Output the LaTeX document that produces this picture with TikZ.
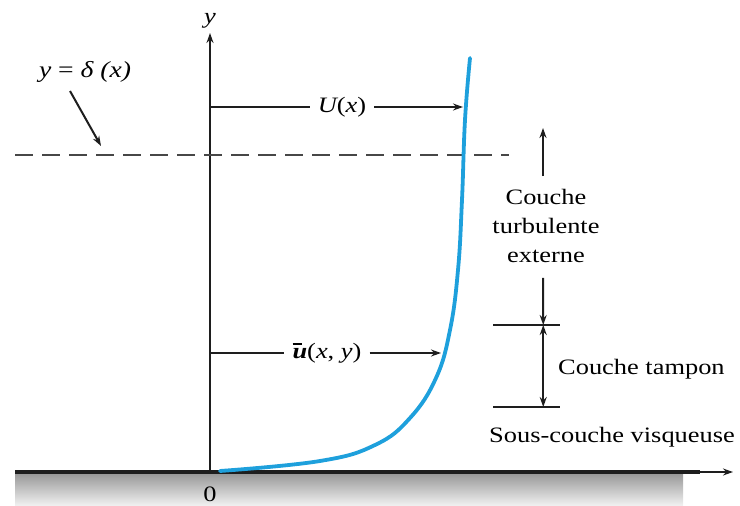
\documentclass[tikz,border=0pt]{standalone}
\usepackage{fontspec}
\setmainfont[FakeStretch=1.2]{Liberation Serif}
\usepackage{tikz}
\usetikzlibrary{arrows.meta,positioning,calc}

\definecolor{profil}{RGB}{30,160,220}
\definecolor{trait}{RGB}{30,30,30}

\newcommand{\ubarre}{\rlap{\rule[0.62em]{0.45em}{1.6pt}}\textbf{\textit{u}}}

\begin{document}
\begin{tikzpicture}[x=1pt,y=-1pt,>={Stealth[length=10pt,width=7pt]},
  lbl/.style={inner sep=1pt,font=\fontsize{22}{29}\selectfont},
  mathlbl/.style={inner xsep=8pt,inner ysep=2pt,font=\fontsize{22}{24}\selectfont\itshape},
  axe/.style={draw=trait,line width=2.2pt},
  fleche/.style={->,draw=trait,line width=2pt},
  repere/.style={draw=trait,line width=2pt}]
  \useasboundingbox (0,0) rectangle (740,506);
  % paroi
  \shade[top color=black!42,bottom color=black!5] (15,472) rectangle (683,506);
  \coordinate (o) at (210,472);
  \coordinate (xend) at (733,472);
  \coordinate (yend) at (210,33);
  \draw[axe,line width=3.2pt] (15,472) -- (700,472);
  \draw[->,axe] (o) -- (xend);
  \draw[->,axe] (o) -- (yend);
  \node[mathlbl] (ylab) at (210,21) {y};
  \node[lbl] (zero) at (210,494) {0};
  % epaisseur de couche limite
  \coordinate (dg) at (15,155);
  \coordinate (dd) at (509,155);
  \draw[draw=black!72,line width=2.6pt,dash pattern=on 18pt off 9pt] (dg) -- (dd);
  \node[mathlbl,font=\fontsize{23}{24}\selectfont\itshape] (dlab) at (85,72) {y \upshape=\itshape\ δ (x)};
  \coordinate (dpt) at (101,146);
  \draw[fleche] (70,91) -- (dpt);
  % profil de vitesse
  \draw[profil,line width=3.8pt,line cap=round] plot[smooth,tension=0.7] coordinates
    {(220,471) (320,461) (375,445) (410,418) (436,378) (450,330) (458,270)
     (462,200) (465,120) (470,58)};
  \coordinate (ua) at (210,107);
  \coordinate (ub) at (463,107);
  \node[mathlbl] (ulab) at (342,107) {U\upshape(\itshape x\upshape)};
  \draw[repere] (ua) -- (ulab);
  \draw[fleche] (ulab) -- (ub);
  \coordinate (va) at (210,353);
  \coordinate (vb) at (441,353);
  \node[mathlbl] (vlab) at (327,353)
    {\ubarre\upshape(\itshape x\upshape, \itshape y\upshape)};
  \draw[repere] (va) -- (vlab);
  \draw[fleche] (vlab) -- (vb);
  % couches
  \node[lbl,align=center] (ext) at (546,226) {Couche\\turbulente\\externe};
  \coordinate (exthaut) at (543,128);
  \draw[fleche] ($(ext.north)+(-3,-12)$) -- (exthaut);
  \coordinate (t1) at (493,325);
  \coordinate (t2) at (560,325);
  \coordinate (b1) at (493,407);
  \coordinate (b2) at (560,407);
  \draw[repere] (t1) -- (t2);
  \draw[repere] (b1) -- (b2);
  \coordinate (mt) at ($(t1)!0.75!(t2)$);
  \coordinate (mb) at ($(b1)!0.75!(b2)$);
  \draw[fleche] ($(ext.south)+(-3,14)$) -- (mt);
  \draw[<->,draw=trait,line width=2pt] (mt) -- (mb);
  \node[lbl,anchor=west] (tampon) at (557,369) {Couche tampon};
  \node[lbl,anchor=west] (visq) at (488,437) {Sous-couche visqueuse};
\end{tikzpicture}
\end{document}
